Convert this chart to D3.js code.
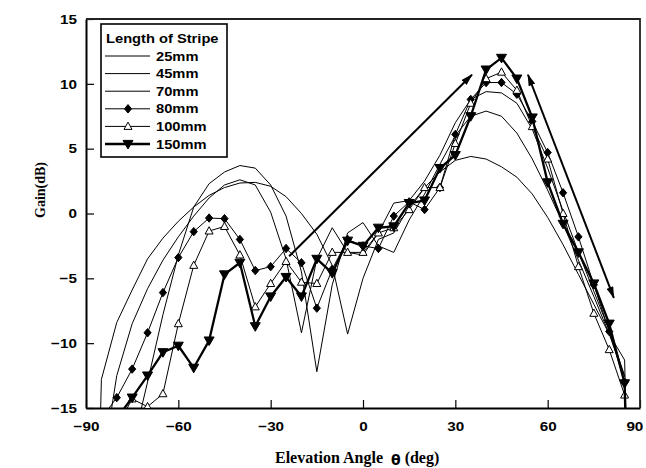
<!DOCTYPE html>
<html>
<head>
<meta charset="utf-8">
<script src="https://cdn.jsdelivr.net/npm/d3@7"></script>
<style>
  body { margin: 0; background: #fff; }
  svg { display: block; }
</style>
</head>
<body>
<svg id="chart" width="646" height="468"></svg>
<script>
// Elevation angles sampled every 5 degrees
const angles = d3.range(-90, 91, 5);

// Measured gain (dB) per stripe length; null = not measured
const gain25  = [-60, -12.8, -8.4, -5.9, -3.5, -1.9, -0.6, 0.5, 1.4, 2.0, 2.35, 2.4, 2.1, 1.3, 0.0, -1.6, -4.0, -9.3, -5.0, -2.0, -1.5, 0.5, 2.0, 3.2, 4.1, 4.4, 4.2, 3.6, 2.8, 1.5, -0.3, -2.4, -4.7, -7.0, -9.3, -11.3, -60];
const gain45  = [null, null, -25, -18, -13, -7.8, -3.2, 0.5, 2.3, 3.2, 3.7, 3.5, 2.2, -0.2, -4.5, -12.2, -5.5, -1.5, -0.7, -2.5, -3.0, -0.5, 1.5, 3.8, 6.0, 7.5, 7.9, 7.5, 6.2, 4.2, 1.8, -0.8, -3.6, -6.4, -9.3, -12.6, null];
const gain70  = [null, -20, -12.5, -8.5, -5.8, -3.6, -1.8, -0.2, 1.2, 2.2, 2.6, 2.2, 0.1, -3.5, -9.2, -3.5, -1.1, -3.0, -3.2, -1.5, 0.8, 1.0, 2.5, 4.5, 7.0, 8.8, 9.4, 9.3, 8.5, 6.5, 3.5, 0.2, -3.0, -6.0, -9.0, -12.5, null];
const gain80  = [null, -15.8, -14.2, -12.0, -9.2, -6.1, -3.4, -1.4, -0.35, -0.4, -2.0, -4.4, -4.1, -2.7, -3.8, -7.3, -4.3, -2.0, -2.5, -2.7, -0.2, 0.9, 0.3, 2.0, 6.1, 8.8, 10.1, 10.1, 9.2, 7.1, 4.7, 1.6, -1.8, -5.5, -9.1, -13.0, null];
const gain100 = [null, null, -16.5, -14.3, -14.9, -13.9, -8.5, -4.0, -1.35, -1.0, -3.2, -7.2, -5.4, -3.7, -5.3, -5.4, -3.0, -3.0, -3.0, -1.5, -1.1, 0.3, 2.0, 2.0, 5.4, 8.5, 10.4, 10.9, 9.5, 6.7, 4.2, 0.0, -4.1, -7.7, -10.5, -14.0, null];
const gain150 = [null, null, -15.8, -14.2, -12.5, -10.7, -10.2, -11.9, -9.8, -4.7, -3.8, -8.7, -6.4, -4.9, -6.4, -3.5, -4.6, -2.1, -2.5, -1.1, -1.0, 0.8, 1.0, 3.5, 4.5, 7.5, 11.1, 12.0, 10.4, 7.4, 2.4, -0.8, -3.0, -5.4, -8.5, -13.1, -60];

const seriesNames = ["25mm", "45mm", "70mm", "80mm", "100mm", "150mm"];
const legendTitle = "Length of Stripe";

// Axis ticks
const xMajorTicks = [-90, -60, -30, 0, 30, 60, 90];
const xMinorTicks = d3.range(-90, 91, 5);
const yMajorTicks = [-15, -10, -5, 0, 5, 10, 15];
const yMinorTicks = d3.range(-15, 16, 1);

// Annotation arrows, [angle, gain] end points
const arrowRise = [[-24, -3.3], [35.4, 10.7]];
const arrowFall = [[53.6, 10.7], [81.5, -6.5]];

const svg = d3.select("#chart");
const plot = { left: 86, top: 19, right: 640, bottom: 408 };
const x = d3.scaleLinear().domain([-90, 90]).range([plot.left, plot.right]);
const y = d3.scaleLinear().domain([-15, 15]).range([plot.bottom, plot.top]);

const SX = 1.13; // horizontal stretch of the label lettering
const sans = "'Liberation Sans', Arial, sans-serif";
const serif = "'Liberation Serif', 'Times New Roman', serif";

const defs = svg.append("defs");
defs.append("clipPath").attr("id", "plotClip")
  .append("rect")
  .attr("x", plot.left).attr("y", plot.top)
  .attr("width", plot.right - plot.left).attr("height", plot.bottom - plot.top);

defs.append("marker")
  .attr("id", "arrowHead")
  .attr("viewBox", "0 0 12 7")
  .attr("refX", 11).attr("refY", 3.5)
  .attr("markerWidth", 12).attr("markerHeight", 7)
  .attr("markerUnits", "userSpaceOnUse")
  .attr("orient", "auto-start-reverse")
  .append("path").attr("d", "M0,0L12,3.5L0,7Z").attr("fill", "#000");

// Marker shapes
const symbols = {
  diamond: "M0,-4.2L3.6,0L0,4.2L-3.6,0Z",
  triUp: "M0,-4.3L4,3L-4,3Z",
  triDown: "M0,5L-5,-3.6L5,-3.6Z"
};

const series = [
  { name: seriesNames[0], values: gain25,  width: 1,   marker: null },
  { name: seriesNames[1], values: gain45,  width: 1,   marker: null },
  { name: seriesNames[2], values: gain70,  width: 1,   marker: null },
  { name: seriesNames[3], values: gain80,  width: 1,   marker: "diamond", fill: "#000" },
  { name: seriesNames[4], values: gain100, width: 1,   marker: "triUp",   fill: "#fff" },
  { name: seriesNames[5], values: gain150, width: 2.3, marker: "triDown", fill: "#000" }
];

// Axes
const xAxis = svg.append("g").attr("transform", `translate(0,${plot.bottom})`);
xAxis.call(d3.axisBottom(x).tickValues(xMinorTicks).tickSize(-4).tickSizeOuter(0).tickFormat(""));
xAxis.call(d3.axisBottom(x).tickValues(xMajorTicks).tickSize(-8).tickSizeOuter(0).tickPadding(13).tickFormat(d3.format("d")));
const yAxis = svg.append("g").attr("transform", `translate(${plot.left},0)`);
yAxis.call(d3.axisLeft(y).tickValues(yMinorTicks).tickSize(-4).tickSizeOuter(0).tickFormat(""));
yAxis.call(d3.axisLeft(y).tickValues(yMajorTicks).tickSize(-8).tickSizeOuter(0).tickPadding(8).tickFormat(d3.format("d")));

svg.selectAll(".tick line").attr("stroke", "#000").attr("stroke-width", 1.2);
svg.selectAll(".domain").attr("stroke", "#000").attr("stroke-width", 2);
svg.selectAll(".tick text")
  .attr("font-family", sans).attr("font-weight", "bold").attr("font-size", 13.5)
  .attr("fill", "#000")
  .attr("transform", `scale(${SX},1)`);
// keep the last angle label inside the page edge
xAxis.selectAll(".tick text").filter(d => d === 90).attr("x", -5);

// Frame: top and right edges
svg.append("path")
  .attr("d", `M${plot.left},${plot.top}H${plot.right}V${plot.bottom}`)
  .attr("fill", "none").attr("stroke", "#222").attr("stroke-width", 1.8);

// Curves
const line = d3.line()
  .defined(d => d.v !== null)
  .x(d => x(d.a)).y(d => y(d.v));

const curves = svg.append("g").attr("clip-path", "url(#plotClip)");
series.forEach(s => {
  const pts = angles.map((a, i) => ({ a, v: s.values[i] }));
  curves.append("path")
    .datum(pts)
    .attr("d", line)
    .attr("fill", "none")
    .attr("stroke", "#000")
    .attr("stroke-width", s.width)
    .attr("stroke-linejoin", "round");
  if (s.marker) {
    curves.selectAll(null)
      .data(pts.filter(d => d.v !== null && d.v >= -15.1 && d.v <= 15))
      .join("path")
      .attr("d", symbols[s.marker])
      .attr("transform", d => `translate(${x(d.a)},${y(d.v)})`)
      .attr("fill", s.fill)
      .attr("stroke", "#000")
      .attr("stroke-width", 1);
  }
});

// Arrows
svg.append("path")
  .datum(arrowRise)
  .attr("d", d3.line().x(d => x(d[0])).y(d => y(d[1])))
  .attr("stroke", "#000").attr("stroke-width", 2).attr("fill", "none")
  .attr("marker-end", "url(#arrowHead)");
svg.append("path")
  .datum(arrowFall)
  .attr("d", d3.line().x(d => x(d[0])).y(d => y(d[1])))
  .attr("stroke", "#000").attr("stroke-width", 2).attr("fill", "none")
  .attr("marker-start", "url(#arrowHead)")
  .attr("marker-end", "url(#arrowHead)");

// Legend
const legend = svg.append("g");
legend.append("rect")
  .attr("x", 101).attr("y", 24).attr("width", 126).attr("height", 133)
  .attr("fill", "#fff").attr("stroke", "#000").attr("stroke-width", 1.6);
legend.append("text")
  .attr("transform", `translate(106,43) scale(${SX},1)`)
  .attr("font-family", sans).attr("font-weight", "bold").attr("font-size", 13)
  .text(legendTitle);
series.forEach((s, i) => {
  const cy = 56 + i * 17.6;
  legend.append("line")
    .attr("x1", 105).attr("x2", 150).attr("y1", cy).attr("y2", cy)
    .attr("stroke", "#000").attr("stroke-width", s.width);
  if (s.marker) {
    legend.append("path")
      .attr("d", symbols[s.marker])
      .attr("transform", `translate(128,${cy})`)
      .attr("fill", s.fill).attr("stroke", "#000").attr("stroke-width", 1);
  }
  legend.append("text")
    .attr("transform", `translate(156,${cy + 4.6}) scale(${SX},1)`)
    .attr("font-family", sans).attr("font-weight", "bold").attr("font-size", 13)
    .text(s.name);
});

// Axis titles
svg.append("text")
  .attr("transform", "translate(45,190) rotate(-90)")
  .attr("text-anchor", "middle")
  .attr("font-family", serif).attr("font-weight", "bold").attr("font-size", 14)
  .text("Gain(dB)");

const xTitle = svg.append("text")
  .attr("x", 275).attr("y", 463)
  .attr("font-family", serif).attr("font-weight", "bold").attr("font-size", 16)
  .attr("fill", "#000");
xTitle.append("tspan").text("Elevation Angle ");
xTitle.append("tspan")
  .attr("dx", 4).attr("dy", 2)
  .attr("font-family", "'DejaVu Sans', sans-serif").attr("font-size", 14)
  .text("θ");
xTitle.append("tspan").attr("dy", -2).text(" (deg)");
</script>
</body>
</html>
